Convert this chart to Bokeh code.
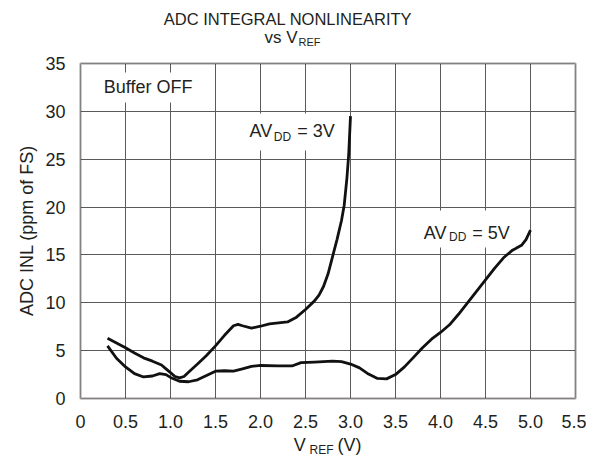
import math
from bokeh.plotting import figure
from bokeh.models import Range1d, FixedTicker, Label, BoxAnnotation, Grid
from bokeh.embed import file_html
from bokeh.resources import INLINE

FONT = "Liberation Sans"
INK = "#231f20"

# ---- data ----
vref_3v = [0.3, 0.4, 0.5, 0.6, 0.7, 0.8, 0.9, 0.95, 1.0, 1.05, 1.1, 1.15, 1.2, 1.3,
           1.4, 1.5, 1.6, 1.7, 1.75, 1.8, 1.9, 2.0, 2.1, 2.2, 2.3, 2.4, 2.5, 2.6,
           2.65, 2.7, 2.75, 2.8, 2.85, 2.9, 2.93, 2.96, 2.98, 3.0]
inl_3v = [6.3, 5.8, 5.3, 4.75, 4.25, 3.9, 3.5, 3.1, 2.7, 2.3, 2.15, 2.3, 2.75, 3.6,
          4.5, 5.5, 6.6, 7.6, 7.75, 7.6, 7.35, 7.55, 7.8, 7.9, 8.0, 8.5, 9.3, 10.2,
          10.8, 11.7, 13.0, 14.8, 16.6, 18.6, 20.2, 23.0, 25.5, 29.5]

vref_5v = [0.3, 0.4, 0.5, 0.6, 0.7, 0.8, 0.88, 0.95, 1.0, 1.1, 1.2, 1.3, 1.4, 1.5,
           1.6, 1.7, 1.8, 1.9, 2.0, 2.2, 2.35, 2.45, 2.6, 2.8, 2.9, 3.0, 3.1, 3.2,
           3.3, 3.4, 3.5, 3.6, 3.7, 3.8, 3.9, 4.0, 4.1, 4.2, 4.3, 4.4, 4.5, 4.6,
           4.7, 4.8, 4.9, 4.95, 5.0]
inl_5v = [5.5, 4.2, 3.3, 2.6, 2.25, 2.35, 2.6, 2.5, 2.2, 1.8, 1.75, 1.95, 2.4, 2.85,
          2.9, 2.85, 3.1, 3.35, 3.45, 3.4, 3.4, 3.75, 3.8, 3.9, 3.85, 3.6, 3.2, 2.55,
          2.1, 2.05, 2.5, 3.3, 4.3, 5.3, 6.2, 6.9, 7.7, 8.8, 10.0, 11.2, 12.4, 13.6,
          14.7, 15.5, 16.0, 16.6, 17.6]

x_ticks = [0.0, 0.5, 1.0, 1.5, 2.0, 2.5, 3.0, 3.5, 4.0, 4.5, 5.0, 5.5]
x_tick_labels = ["0", "0.5", "1.0", "1.5", "2.0", "2.5", "3.0", "3.5", "4.0", "4.5", "5.0", "5.5"]
y_ticks = [0, 5, 10, 15, 20, 25, 30, 35]
y_tick_labels = ["0", "5", "10", "15", "20", "25", "30", "35"]
x_lim = (0.0, 5.5)
y_lim = (0.0, 35.0)

# ---- geometry: data box occupies px 80..575 x 63..398 of a 586x456 canvas ----
W, H = 586, 456
L_PX, R_PX, T_PX, B_PX = 80, 575, 63, 398
SX = (R_PX - L_PX) / (x_lim[1] - x_lim[0])
SY = (B_PX - T_PX) / (y_lim[1] - y_lim[0])


def X(px):
    return x_lim[0] + (px - L_PX) / SX


def Y(py):
    return y_lim[0] + (B_PX - py) / SY


p = figure(width=W, height=H, x_range=Range1d(X(0), X(W)), y_range=Range1d(Y(H), Y(0)),
           output_backend="svg", toolbar_location=None,
           min_border_left=0, min_border_right=0, min_border_top=0, min_border_bottom=0)
p.background_fill_color = "white"
p.border_fill_color = "white"
p.outline_line_color = None

for ax in p.axis:
    ax.axis_line_color = None
    ax.major_tick_line_color = None
    ax.minor_tick_line_color = None
    ax.major_tick_out = 0
    ax.major_tick_in = 0
    ax.major_label_text_font = FONT
    ax.major_label_text_font_size = "18px"
    ax.major_label_text_color = INK

p.xaxis.ticker = FixedTicker(ticks=x_ticks)
p.xaxis.major_label_overrides = dict(zip(x_ticks, x_tick_labels))
p.xaxis.major_label_standoff = 16
p.xaxis.fixed_location = y_lim[0]
p.xaxis.bounds = x_lim
p.yaxis.ticker = FixedTicker(ticks=y_ticks)
p.yaxis.major_label_overrides = dict(zip(y_ticks, y_tick_labels))
p.yaxis.major_label_standoff = 15
p.yaxis.fixed_location = x_lim[0]
p.yaxis.bounds = y_lim

p.grid.grid_line_color = "#5a5a5a"
p.grid.grid_line_width = 1
p.grid.grid_line_alpha = 1
if "cross_bounds" in Grid.properties():
    p.xgrid.cross_bounds = y_lim
    p.ygrid.cross_bounds = x_lim

# white cover outside the data box (hides grid overhang), drawn under the axes labels
for kw in [dict(right=x_lim[0]), dict(left=x_lim[1]), dict(top=y_lim[0]), dict(bottom=y_lim[1])]:
    p.add_layout(BoxAnnotation(fill_color="white", fill_alpha=1.0, line_alpha=0,
                               level="underlay", **kw))

p.line(vref_3v, inl_3v, line_color="#111111", line_width=2.8, line_join="round")
p.line(vref_5v, inl_5v, line_color="#111111", line_width=2.8, line_join="round")

# white boxes behind in-plot labels
for (l, r, t, b) in [(96, 200, 72, 102), (244, 341, 113, 150), (418, 514, 210, 247)]:
    p.add_layout(BoxAnnotation(left=X(l), right=X(r), top=Y(t), bottom=Y(b),
                               fill_color="white", fill_alpha=1.0, line_alpha=0))

# frame border
p.add_layout(BoxAnnotation(left=x_lim[0], right=x_lim[1], bottom=y_lim[0], top=y_lim[1],
                           fill_alpha=0, line_color=INK, line_width=2.5, level="overlay"))

SHIFT = 7  # baseline correction (px)


def lab(text, px, py, size="18px", align="left", angle=0.0):
    if angle:
        px = px - SHIFT
    else:
        py = py - SHIFT
    p.add_layout(Label(x=X(px), y=Y(py), text=text, text_font=FONT, text_font_size=size,
                       text_color=INK, text_align=align, text_baseline="alphabetic",
                       angle=angle))


# title
lab("ADC INTEGRAL NONLINEARITY", 287.5, 25, size="16.5px", align="center")
lab("vs V", 297, 44, size="17px", align="right")
lab("REF", 298, 48, size="11px")

# in-plot labels
lab("Buffer OFF", 103.3, 93.3)
lab("AV", 249, 137.7)
lab("DD", 273.3, 143.3, size="12px")
lab("= 3V", 296.7, 137.7)
lab("AV", 423.3, 239.3)
lab("DD", 448.5, 243.5, size="12px")
lab("= 5V", 471.7, 239.3)

# axis titles
lab("V", 293.3, 451)
lab("REF", 309, 456, size="12px")
lab("(V)", 337, 451)
lab("ADC INL (ppm of FS)", 33.3, 230, align="center", angle=math.pi / 2)

open("out.html", "w").write(file_html(p, INLINE))
